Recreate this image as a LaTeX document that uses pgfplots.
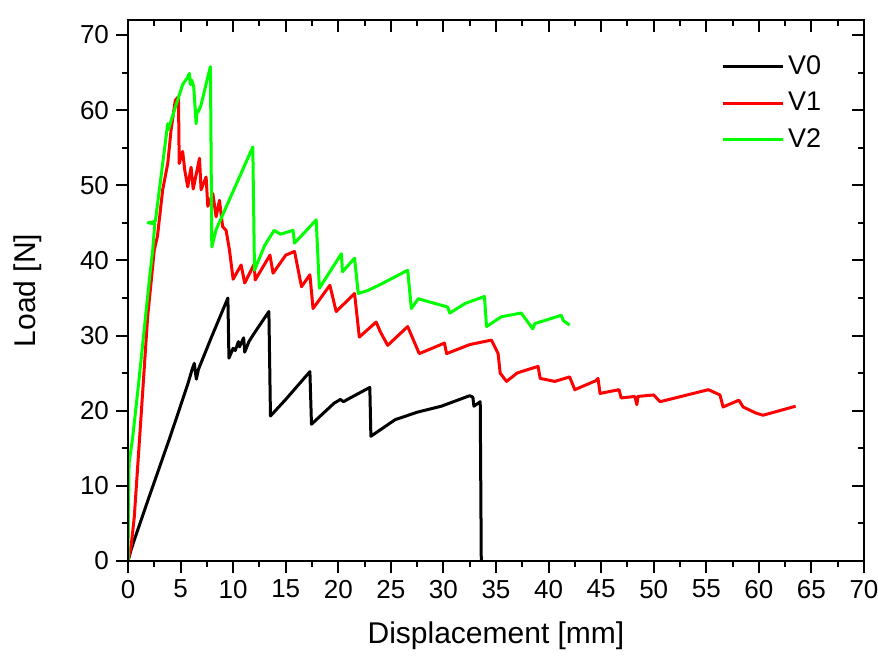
\documentclass[border=0pt]{standalone}
\usepackage{fontspec}
\setmainfont{Liberation Sans}
\usepackage{pgfplots}
\pgfplotsset{compat=1.18}

\pgfplotsset{
  common/.style={
    width=368pt, height=270.5pt, scale only axis,
    xmin=0, xmax=70, ymin=0, ymax=72,
    xtick={0,5,...,70}, ytick={0,10,...,70},
    minor x tick num=1, minor y tick num=1,
    major tick length=6pt, minor tick length=3pt,
    axis line style={line width=1pt},
    every tick/.style={line width=1pt, black},
  },
}

\begin{document}
\begin{tikzpicture}
  \path[use as bounding box] (-64pt,-47.5pt) rectangle (375pt,280.5pt);
  \begin{axis}[
      common,
      xtick pos=lower, ytick pos=left,
      tick align=outside,
      /pgf/number format/assume math mode=true,
      tick label style={font=\fontsize{13}{15}\selectfont},
      xlabel={Displacement [mm]}, ylabel={Load [N]},
      label style={font=\fontsize{15}{17}\selectfont},
      xlabel style={at={(axis description cs:0.5,0)}, anchor=center, yshift=-37.5pt},
      ylabel style={at={([xshift=-50pt]axis description cs:0,0.5)}, anchor=center},
      legend style={draw=none, fill=none, at={(axis cs:55.8,68.4)}, anchor=north west,
        font=\fontsize{13.5}{15}\selectfont, row sep=3.5pt},
      legend cell align=left,
      legend image code/.code={\draw[#1] (0pt,0pt) -- (30pt,0pt);},
      every axis plot/.append style={line width=1.5pt, line join=round},
    ]
    % V0
    \addplot[black] coordinates {
      (0,0) (0.3,1.5) (0.6,2.8) (2,8.5) (4,16.5) (5.7,23.6) (6.1,25.5) (6.3,26.3)
      (6.5,24.2) (6.7,25.5) (8,30) (9.5,35.0) (9.6,27.0) (10.0,28.3) (10.2,28.0)
      (10.5,29.2) (10.6,28.5) (11.0,29.7) (11.1,27.8) (11.5,29.2) (12.0,30.3)
      (13.4,33.2) (13.55,19.3) (15,21.5) (17.3,25.2) (17.45,18.2) (19.6,21.0)
      (20.2,21.5) (20.5,21.2) (21,21.6) (23.0,23.1) (23.1,16.6) (25.4,18.8)
      (27.5,19.8) (29.8,20.6) (32.5,22.0) (32.8,21.8) (32.9,20.6) (33.5,21.2) (33.6,0)
    };
    \addlegendentry{V0}
    % V1
    \addplot[red] coordinates {
      (0,0) (0.3,2) (0.6,5.9) (1.24,19.2) (1.87,32.5) (2.19,37) (2.5,41.4) (2.8,43.2)
      (3.3,49.4) (3.78,52.9) (4.1,57.4) (4.5,61.3) (4.8,61.8) (4.87,52.9) (5.2,54.5)
      (5.4,52) (5.68,49.8) (6.0,52.4) (6.2,49.5) (6.8,53.6) (6.95,49.4) (7.43,51.1)
      (7.59,47.2) (8.07,48.9) (8.38,45.8) (8.7,48.0) (9.0,44.5) (9.33,44.0) (9.65,41.4)
      (10.0,37.5) (10.76,39.4) (11.1,37) (12.0,39.5) (12.1,37.4) (13.5,40.7)
      (13.8,38.3) (15,40.7) (15.84,41.2) (16.5,36.5) (17.3,38.1) (17.6,33.6)
      (19.2,36.7) (19.8,33.2) (21.55,35.6) (22.0,29.8) (23.6,31.8) (24.0,30.5)
      (24.7,28.7) (26.6,31.2) (27.7,27.6) (30.1,29.0) (30.3,27.6) (32.5,28.8)
      (34.57,29.4) (35.2,27.6) (35.4,25.0) (36.0,23.9) (37.0,25.0) (37.4,25.2)
      (39.0,25.9) (39.2,24.3) (40.6,23.9) (42.0,24.5) (42.5,22.8) (44.5,24.0)
      (44.7,24.3) (44.9,22.3) (46.7,22.8) (46.9,21.7) (48.2,21.9) (48.4,20.8)
      (48.5,21.9) (50,22.1) (50.6,21.2) (55.2,22.8) (56.3,22.1) (56.6,20.5)
      (58.1,21.4) (58.5,20.5) (59.7,19.7) (60.4,19.4) (63.5,20.6)
    };
    \addlegendentry{V1}
    % V2
    \addplot[green] coordinates {
      (0,0) (0.1,13) (0.45,16.5) (1.0,23.5) (2.03,37.4) (2.35,41.4) (2.55,44.9)
      (1.9,45.0) (2.6,45.2) (3.78,58.2) (3.84,57.4) (4.32,59.6) (5.2,63.4)
      (5.68,64.4) (5.84,64.9) (5.93,63.4) (6.06,64) (6.25,63.1) (6.48,58.2)
      (6.57,60.0) (6.7,59.8) (6.95,60.7) (7.59,64.4) (7.84,65.8) (7.97,41.8)
      (8.38,44.1) (11.87,55.1) (12.03,38.7) (13.0,42) (13.9,44.0) (14.5,43.5)
      (15.7,44) (15.84,42.3) (17.9,45.4) (18.2,36.3) (20.3,40.9) (20.4,38.5)
      (21.55,40.3) (21.9,35.6) (22.8,36) (24,36.8) (26.6,38.7) (26.95,33.6)
      (27.6,34.9) (30.4,33.8) (30.6,33.0) (32.1,34.3) (33.9,35.2) (34.1,31.2)
      (35.5,32.5) (37.4,33.0) (38.5,30.9) (38.7,31.6) (41.2,32.7) (41.4,32) (42.0,31.4)
    };
    \addlegendentry{V2}
  \end{axis}
  \begin{axis}[
      common,
      xtick pos=upper, ytick pos=right,
      tick align=inside,
      xticklabels={}, yticklabels={},
    ]
  \end{axis}
\end{tikzpicture}
\end{document}
